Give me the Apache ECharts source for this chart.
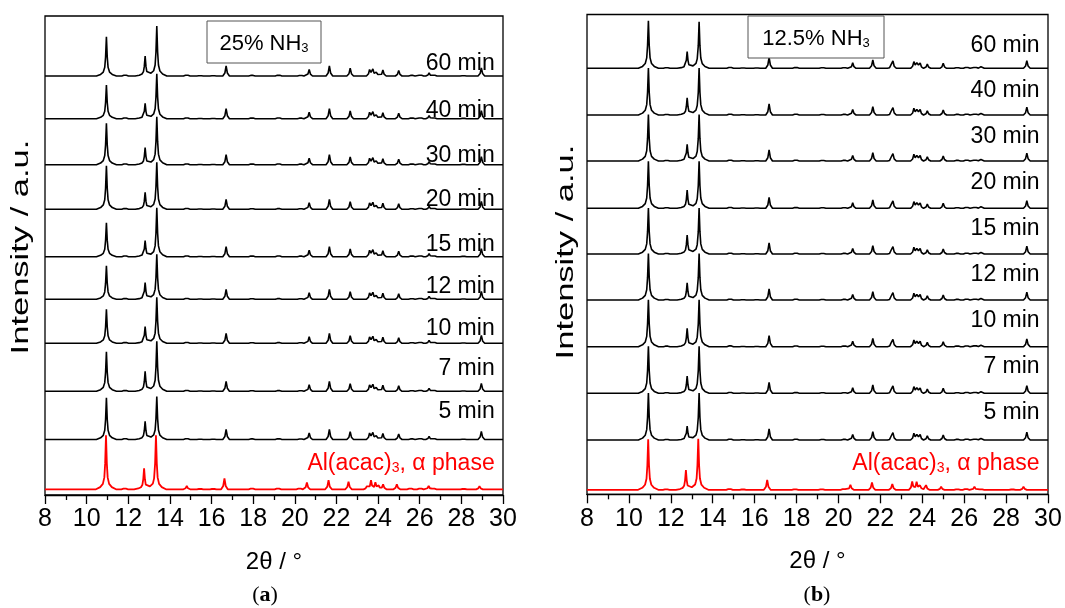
<!DOCTYPE html>
<html><head><meta charset="utf-8">
<script src="https://cdn.jsdelivr.net/npm/echarts@6/dist/echarts.min.js"></script>
<style>html,body{margin:0;padding:0;background:#fff}#c{width:1065px;height:608px}</style>
</head><body><div id="c"></div>
<script>
// ---------------- DATA ----------------
const timeLabels = ['5 min','7 min','10 min','12 min','15 min','20 min','30 min','40 min','60 min'];
const xTicks = [8,10,12,14,16,18,20,22,24,26,28,30];

// Panel (a): 25% NH3
const baselineA = [55.5, 103.7, 151.7, 195.7, 238.3, 285.7, 330.3, 376.3, 419];
const refBaselineA = 5.7;
const mainPosA = [10.95, 12.81, 13.37];
const mainHeightsA = [[41.7,18.3,43],[39.4,20,50],[34,16.6,46],[33.6,16.6,45],[34,16,49],[43.6,17,47],[41.4,17,48],[33.7,15.4,45],[39.3,20,50]];
const minorPeaksA = [[11.85,2.3],[14.81,2.5],[15.45,0.8],[16.08,0.8],[16.70,10],[17.94,2],[19.22,2.2],[20.28,1.8],[20.69,6.5],[21.66,10],[22.66,7.7],[23.60,7.3],[23.75,6.8],[23.93,5],[24.23,6],[24.99,5.5],[25.62,2],[26.03,2.5],[26.45,3],[26.67,2.5],[28.10,1],[28.96,8]];
const refMainPosA = [10.93, 12.76, 13.33];
const refMainHeightsA = [54, 21, 54];
const refMinorPeaksA = [[11.83,2],[14.81,3.3],[15.45,1],[16.08,1],[16.62,11],[17.94,2],[19.19,2.5],[20.23,2],[20.58,6.7],[21.62,9],[22.58,7.7],[23.46,3],[23.66,9],[23.87,7],[24.03,4],[24.24,5],[24.90,5],[25.55,2],[26.03,2.5],[26.43,3.5],[26.65,2],[28.11,1],[28.87,3]];
const labelYA = [83.3, 126, 166, 208, 250, 295, 339, 384, 431];
const refLabelYA = 33.3;

// Panel (b): 12.5% NH3
const baselineB = [54.3, 101, 147.6, 194.3, 240.3, 286, 333.3, 379.3, 426];
const refBaselineB = 4.5;
const mainPosB = [10.93, 12.78, 13.35];
const mainHeightsB = [[47,14,47],[47,17.3,47],[47,18.4,47],[46.5,17.3,46.5],[46,19,46],[47,18.3,47],[46.5,16.7,46.5],[47,17.3,47],[47.6,16.6,46.6]];
const minorPeaksB = [[11.80,1.8],[14.83,2.7],[15.44,0.8],[16.10,0.8],[16.69,11],[17.97,2.3],[19.24,1.7],[20.28,2],[20.68,5.5],[21.64,8.3],[22.50,2],[22.60,7],[23.60,6.7],[23.76,6.7],[23.90,5],[24.24,4.3],[25.00,5],[25.67,2],[26.12,2.5],[26.52,2.7],[26.80,1.5],[28.99,7.7]];
const refMainPosB = [10.92, 12.72, 13.31];
const refMainHeightsB = [50.5, 19.7, 51];
const refMinorPeaksB = [[11.78,1.5],[14.80,2.3],[15.44,1],[16.60,10],[17.93,1.7],[19.20,1.7],[20.26,2],[20.57,5],[21.60,7.3],[22.57,5.7],[23.52,8.3],[23.73,8],[23.90,5],[24.18,4.7],[24.90,3],[25.67,1.5],[26.09,2],[26.49,3],[26.80,1.5],[28.30,1],[28.83,3]];
const labelYB = [82, 128, 174, 220, 266, 312, 358, 404, 449];
const refLabelYB = 32;

// peak outline templates (offset in degrees, fraction of peak height)
const mainShape = [[-0.48,0],[-0.28,0.04],[-0.15,0.1],[-0.08,0.22],[-0.04,0.48],[0,1],[0.04,0.48],[0.08,0.22],[0.15,0.1],[0.28,0.04],[0.48,0]];
const minorShape = [[-0.16,0],[-0.06,0.3],[0,1],[0.06,0.3],[0.16,0]];

// ---------------- BUILD ----------------
function shapeAt(shape, dx) {
  if (dx <= shape[0][0] || dx >= shape[shape.length-1][0]) return 0;
  for (let i = 0; i < shape.length-1; i++) {
    const [x0,y0] = shape[i], [x1,y1] = shape[i+1];
    if (dx >= x0 && dx <= x1) return y0 + (y1-y0)*(dx-x0)/(x1-x0);
  }
  return 0;
}
function buildTrace(mainPos, mainH, minor, offset) {
  const peaks = mainPos.map((p,i)=>({p:p, h:mainH[i], s:mainShape}))
    .concat(minor.map(m=>({p:m[0], h:m[1], s:minorShape})));
  const xs = new Set([8,30]);
  peaks.forEach(pk => pk.s.forEach(v => xs.add(+(pk.p+v[0]).toFixed(3))));
  return Array.from(xs).filter(x=>x>=8&&x<=30).sort((a,b)=>a-b).map(x => {
    let y = offset;
    peaks.forEach(pk => { y += pk.h*shapeAt(pk.s, x-pk.p); });
    return [x, +y.toFixed(2)];
  });
}

const FONT = 'Liberation Sans, Arial, sans-serif';
const series = [];
function addPanel(idx, baselines, mainPos, mainHeights, minor, refBase, refPos, refH, refMinor) {
  baselines.forEach((b,i) => {
    series.push({type:'line', xAxisIndex:idx, yAxisIndex:idx, showSymbol:false, silent:true,
      lineStyle:{color:'#000', width:1.6}, data: buildTrace(mainPos, mainHeights[i], minor, b)});
  });
  series.push({type:'line', xAxisIndex:idx, yAxisIndex:idx, showSymbol:false, silent:true,
    lineStyle:{color:'#ff0000', width:1.8}, data: buildTrace(refPos, refH, refMinor, refBase)});
}
addPanel(0, baselineA, mainPosA, mainHeightsA, minorPeaksA, refBaselineA, refMainPosA, refMainHeightsA, refMinorPeaksA);
addPanel(1, baselineB, mainPosB, mainHeightsB, minorPeaksB, refBaselineB, refMainPosB, refMainHeightsB, refMinorPeaksB);

function xAx(i){ return {type:'value', gridIndex:i, min:8, max:30, interval:2,
  name:'2\u03b8 / \u00b0', nameLocation:'middle', nameGap:55, nameTextStyle:{color:'#000', fontSize:24, fontFamily:FONT},
  axisLine:{show:true, lineStyle:{color:'#000', width:1.3}},
  axisTick:{show:true, inside:false, length:9, lineStyle:{color:'#000', width:1.3}},
  minorTick:{show:true, splitNumber:2, length:5, lineStyle:{color:'#000', width:1.3}},
  axisLabel:{color:'#000', fontSize:25, fontFamily:FONT, margin:12, formatter:v=>xTicks.includes(v)?String(v):''},
  splitLine:{show:false}, minorSplitLine:{show:false}}; }
function yAx(i, max){ return {type:'value', gridIndex:i, min:0, max:max,
  axisLine:{show:false}, axisTick:{show:false}, axisLabel:{show:false}, splitLine:{show:false}}; }

const chart = echarts.init(document.getElementById('c'), null, {renderer:'canvas'});
chart.setOption({
  animation:false, backgroundColor:'#fff',
  grid:[
    {left:45, right:562, top:16, bottom:113, show:true, borderColor:'#000', borderWidth:1.3, backgroundColor:'transparent'},
    {left:587, right:17, top:14.5, bottom:113.7, show:true, borderColor:'#000', borderWidth:1.3, backgroundColor:'transparent'}
  ],
  xAxis:[xAx(0), xAx(1)],
  yAxis:[yAx(0, 479), yAx(1, 479.8)],
  series: series
});

// text annotations placed through the axes' own scales
const graphics = [];
function timeText(idx, labelY, refLabelY) {
  timeLabels.forEach((t,i) => {
    const p = chart.convertToPixel({gridIndex:idx}, [29.6, labelY[i]]);
    graphics.push({type:'text', x:p[0], y:p[1], z:20, style:{text:t, fill:'#000', font:'23px ' + FONT, align:'right', verticalAlign:'middle'}});
  });
  const q = chart.convertToPixel({gridIndex:idx}, [29.6, refLabelY]);
  graphics.push({type:'text', x:q[0], y:q[1], z:20, style:{text:'{t|Al(acac)}{s|3}{t|, \u03b1 phase}', align:'right', verticalAlign:'middle',
    rich:{t:{fill:'#ff0000', fontSize:23, fontFamily:FONT, lineHeight:26, verticalAlign:'bottom'},
          s:{fill:'#ff0000', fontSize:14, fontFamily:FONT, lineHeight:14, verticalAlign:'bottom'}}}});
}
timeText(0, labelYA, refLabelYA);
timeText(1, labelYB, refLabelYB);

// y-axis titles (stretched along their length as in the original figure)
[[22, 247], [567, 252]].forEach(c => {
  graphics.push({type:'text', x:c[0], y:c[1], rotation:Math.PI/2, scaleX:1.5, z:20,
    style:{text:'Intensity / a.u.', fill:'#000', font:'23px ' + FONT, align:'center', verticalAlign:'middle'}});
});

graphics.push(
  {type:'rect', shape:{x:207, y:21, width:114, height:42}, style:{fill:'#fff', stroke:'#555', lineWidth:1}, z:10},
  {type:'text', x:264, y:42, z:11, style:{text:'{t|25% NH}{s|3}', align:'center', verticalAlign:'middle',
    rich:{t:{fontSize:22, fontFamily:FONT, fill:'#000', lineHeight:26, verticalAlign:'bottom'}, s:{fontSize:13, fontFamily:FONT, fill:'#000', lineHeight:13, verticalAlign:'bottom'}}}},
  {type:'rect', shape:{x:748, y:16, width:136, height:42}, style:{fill:'#fff', stroke:'#555', lineWidth:1}, z:10},
  {type:'text', x:816, y:37, z:11, style:{text:'{t|12.5% NH}{s|3}', align:'center', verticalAlign:'middle',
    rich:{t:{fontSize:22, fontFamily:FONT, fill:'#000', lineHeight:26, verticalAlign:'bottom'}, s:{fontSize:13, fontFamily:FONT, fill:'#000', lineHeight:13, verticalAlign:'bottom'}}}},
  {type:'text', x:265, y:595, style:{text:'{p|(}{b|a}{p|)}', align:'center', verticalAlign:'middle',
    rich:{p:{fontSize:22, fontFamily:'Liberation Serif, serif', fill:'#000'}, b:{fontSize:22, fontWeight:'bold', fontFamily:'Liberation Serif, serif', fill:'#000'}}}},
  {type:'text', x:817, y:595, style:{text:'{p|(}{b|b}{p|)}', align:'center', verticalAlign:'middle',
    rich:{p:{fontSize:22, fontFamily:'Liberation Serif, serif', fill:'#000'}, b:{fontSize:22, fontWeight:'bold', fontFamily:'Liberation Serif, serif', fill:'#000'}}}}
);
chart.setOption({graphic: graphics});
</script></body></html>
